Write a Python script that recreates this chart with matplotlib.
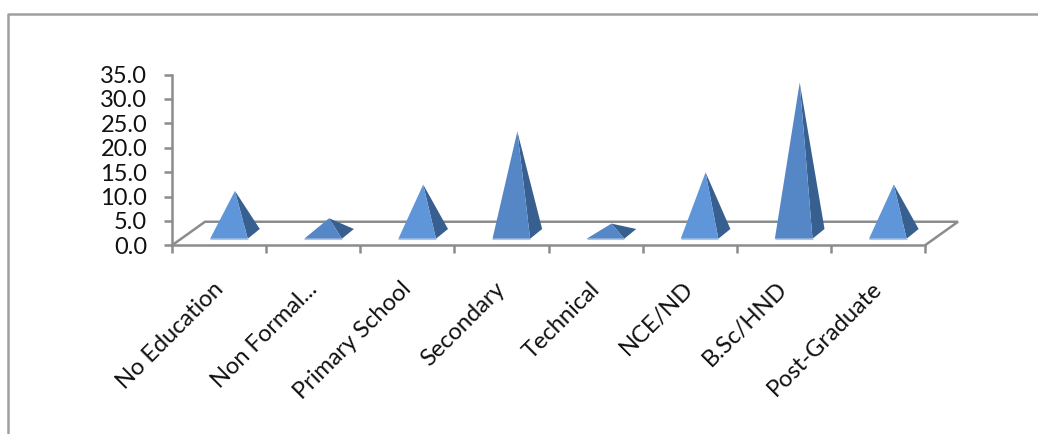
import matplotlib
matplotlib.use('Agg')
import matplotlib.pyplot as plt
from matplotlib.patches import Polygon

# Education level shares (%)
categories = ['No Education', 'Non Formal...', 'Primary School', 'Secondary',
              'Technical', 'NCE/ND', 'B.Sc/HND', 'Post-Graduate']
values = [8.8, 3.2, 10.1, 21.0, 2.1, 12.6, 31.0, 10.1]
y_ticks = [0, 5, 10, 15, 20, 25, 30, 35]

FW, FH = 1038, 434
GREY = '#8c8c8c'
LIGHT_FACE = '#5e96d9'
DARK_FACE = '#5587c6'
SIDE = '#375f8f'
face_colors = [LIGHT_FACE, DARK_FACE, LIGHT_FACE, DARK_FACE,
               DARK_FACE, LIGHT_FACE, DARK_FACE, LIGHT_FACE]

plt.rcParams['font.family'] = ['Lato', 'DejaVu Sans']

fig = plt.figure(figsize=(FW / 100, FH / 100), dpi=100)

# outer chart frame, open on the right and bottom
fig.add_artist(plt.Line2D([8 / FW, 8 / FW, 1038 / FW], [0, 1 - 13.5 / FH, 1 - 13.5 / FH],
                          color='#a0a0a0', lw=1.8))

left, right, top, bottom = 172, 925, 74.5, 245.3
ax = fig.add_axes([left / FW, 1 - bottom / FH, (right - left) / FW, (bottom - top) / FH])
ax.set_xlim(0, len(categories))
ax.set_ylim(0, 35)
ax.patch.set_alpha(0)

# floor depth in data units
depth_x = 33 / 94.1
depth_y = 23.5 / 4.87

floor = [(0, 0), (depth_x, depth_y), (len(categories) + depth_x, depth_y), (len(categories), 0)]
ax.add_patch(Polygon(floor, closed=False, fill=False, edgecolor=GREY, lw=1.8, clip_on=False, zorder=1))

# pyramids: square base on the floor, apex above the base centre
base_w = 0.40
base_front = 1.35
side_dx = 12 / 94.1
side_dy = 9.7 / 4.87
for i, (val, col) in enumerate(zip(values, face_colors)):
    x0 = i + 0.405
    x1 = x0 + base_w
    apex = (x0 + base_w / 2 + side_dx / 2, base_front + side_dy / 2 + val)
    ax.add_patch(Polygon([(x1, base_front), (x1 + side_dx, base_front + side_dy), apex],
                         facecolor=SIDE, edgecolor='none', zorder=3, clip_on=False))
    ax.add_patch(Polygon([(x0, base_front), (x1, base_front), apex],
                         facecolor=col, edgecolor='none', zorder=4, clip_on=False))
    ax.plot([x0, x1], [base_front, base_front], color='#a9c6ea', lw=0.8, zorder=5,
            solid_capstyle='butt', clip_on=False)

ax.spines['top'].set_visible(False)
ax.spines['right'].set_visible(False)
for s in ('left', 'bottom'):
    ax.spines[s].set_color(GREY)
    ax.spines[s].set_linewidth(1.8)

ax.set_yticks(y_ticks)
ax.set_yticklabels([f'{v:.1f}' for v in y_ticks], fontsize=17, color='#111111')
ax.set_xticks(range(len(categories) + 1))
ax.set_xticklabels([''] * (len(categories) + 1))
ax.tick_params(axis='both', length=5.8, width=1.8, color=GREY)
ax.tick_params(axis='y', pad=12)

# rotated labels end at the middle of each category slot
for i, name in enumerate(categories):
    ax.annotate(name, xy=(i + 0.5, 0), xycoords=('data', 'axes fraction'),
                xytext=(0.4, -29), textcoords='offset points', rotation=45,
                rotation_mode='anchor', ha='right', va='center', fontsize=17, color='#111111')

plt.savefig('out.png', dpi=100)
plt.close()
